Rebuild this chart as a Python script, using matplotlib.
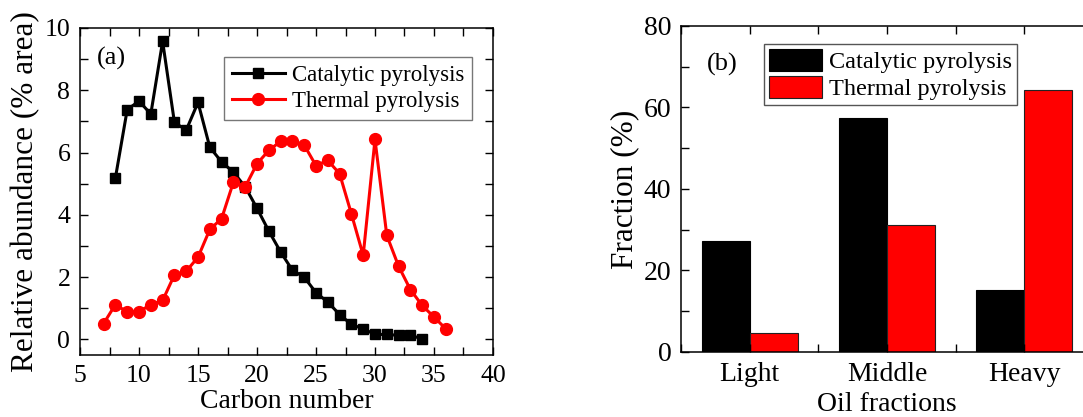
import matplotlib
matplotlib.use("Agg")
import matplotlib.pyplot as plt
from matplotlib.ticker import MultipleLocator, FixedLocator

plt.rcParams['font.family'] = ['Liberation Serif', 'DejaVu Serif']

# (a) carbon number distribution
carbon_cat = list(range(8, 35))
abund_cat = [5.19, 7.38, 7.65, 7.24, 9.57, 6.97, 6.72, 7.61, 6.17, 5.70,
             5.37, 4.90, 4.21, 3.48, 2.81, 2.22, 2.00, 1.50, 1.20, 0.80,
             0.48, 0.34, 0.16, 0.16, 0.13, 0.13, 0.02]
carbon_th = list(range(7, 37))
abund_th = [0.51, 1.12, 0.88, 0.89, 1.12, 1.25, 2.07, 2.19, 2.64, 3.53,
            3.88, 5.05, 4.90, 5.64, 6.07, 6.36, 6.36, 6.24, 5.58, 5.75,
            5.32, 4.03, 2.70, 6.42, 3.34, 2.35, 1.60, 1.09, 0.72, 0.34]

# (b) oil fractions
fractions = ['Light', 'Middle', 'Heavy']
frac_cat = [27.3, 57.5, 15.3]
frac_th = [4.6, 31.2, 64.4]


def style_ticks(ax, size):
    ax.tick_params(which='both', direction='in', top=True, right=True,
                   length=6, width=1.0, labelsize=size, pad=7)
    for s in ax.spines.values():
        s.set_linewidth(1.1)


def draw_carbon(ax):
    ax.plot(carbon_cat, abund_cat, '-s', color='black', lw=2.2, ms=7,
            label='Catalytic pyrolysis')
    ax.plot(carbon_th, abund_th, '-o', color='red', lw=2.2, ms=8.5,
            label='Thermal pyrolysis')
    ax.set_xlim(5, 40)
    ax.set_ylim(-0.5, 10)
    ax.xaxis.set_major_locator(MultipleLocator(5))
    ax.xaxis.set_minor_locator(MultipleLocator(2.5))
    ax.yaxis.set_major_locator(MultipleLocator(2))
    ax.yaxis.set_minor_locator(MultipleLocator(1))
    style_ticks(ax, 18.5)
    ax.set_xlabel('Carbon number', fontsize=20, labelpad=2)
    ax.set_ylabel('Relative abundance (% area)', fontsize=22.5, labelpad=3)
    ax.text(0.041, 0.908, '(a)', transform=ax.transAxes, fontsize=19,
            va='center', ha='left')
    leg = ax.legend(loc='upper right', bbox_to_anchor=(0.949, 0.911),
                    fontsize=16.5, handlelength=2.3, fancybox=False,
                    framealpha=1, edgecolor='#777777', borderpad=0.35,
                    labelspacing=0.2, handletextpad=0.3, borderaxespad=0)
    leg.get_frame().set_linewidth(1.0)


def draw_fractions(ax):
    x = [1, 2, 3]
    w = 0.35
    ax.bar([i - w / 2 for i in x], frac_cat, width=w, color='black',
           edgecolor='black', lw=0.8, label='Catalytic pyrolysis')
    ax.bar([i + w / 2 for i in x], frac_th, width=w, color='red',
           edgecolor='#222222', lw=0.8, label='Thermal pyrolysis')
    ax.set_xlim(0.5, 3.5)
    ax.set_ylim(0, 80)
    ax.xaxis.set_major_locator(FixedLocator(x))
    ax.set_xticklabels(fractions)
    ax.xaxis.set_minor_locator(MultipleLocator(0.5))
    ax.yaxis.set_major_locator(MultipleLocator(20))
    ax.yaxis.set_minor_locator(MultipleLocator(10))
    style_ticks(ax, 20)
    ax.set_xlabel('Oil fractions', fontsize=20, labelpad=4)
    ax.set_ylabel('Fraction (%)', fontsize=22.5, labelpad=3)
    ax.text(0.063, 0.883, '(b)', transform=ax.transAxes, fontsize=19,
            va='center', ha='left')
    leg = ax.legend(loc='upper left', bbox_to_anchor=(0.201, 0.945),
                    fontsize=17.5, handlelength=2.2, handleheight=1.05,
                    fancybox=False, framealpha=1, edgecolor='#555555',
                    borderpad=0.2, labelspacing=0.1, handletextpad=0.3,
                    borderaxespad=0)
    leg.get_frame().set_linewidth(1.0)


fig = plt.figure(figsize=(10.83, 4.17), dpi=100)
ax1 = fig.add_axes([0.0739, 0.1487, 0.3813, 0.7842])
ax2 = fig.add_axes([0.6288, 0.1559, 0.3804, 0.7818])
draw_carbon(ax1)
draw_fractions(ax2)
fig.savefig('out.png', dpi=100)
